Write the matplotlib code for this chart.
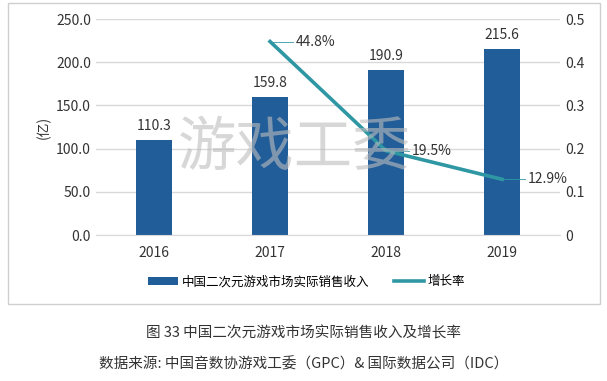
import matplotlib.pyplot as plt
from matplotlib.patches import Rectangle

plt.rcParams['font.family'] = ['Noto Sans CJK SC', 'DejaVu Sans']

years = ['2016', '2017', '2018', '2019']
revenue = [110.3, 159.8, 190.9, 215.6]
growth_years = ['2017', '2018', '2019']
growth = [0.448, 0.195, 0.129]
growth_labels = ['44.8%', '19.5%', '12.9%']

bar_color = '#215d99'
line_color = '#2e97a3'

fig = plt.figure(figsize=(6.07, 3.81), dpi=100)
ax = fig.add_axes([0.158, 0.383, 0.765, 0.567])
ax2 = ax.twinx()

x = list(range(len(years)))
ax.bar(x, revenue, width=0.31, color=bar_color, zorder=2, label='中国二次元游戏市场实际销售收入')
for xi, v in zip(x, revenue):
    ax.text(xi, v + 8, f'{v:.1f}', ha='center', va='bottom', fontsize=10, color='#333333')

gx = [years.index(y) for y in growth_years]
ax2.plot(gx, growth, color=line_color, lw=2.6, zorder=3, label='增长率')
for xi, g, lab in zip(gx, growth, growth_labels):
    ax2.plot([xi, xi + 0.2], [g, g], color=line_color, lw=0.6)
    ax2.text(xi + 0.22, g, lab, ha='left', va='center', fontsize=10, color='#333333')

ax.set_xlim(-0.5, 3.5)
ax.set_ylim(0, 250)
ax2.set_ylim(0, 0.5)
ax.set_yticks([0, 50, 100, 150, 200, 250])
ax.set_yticklabels([f'{v:.1f}' for v in [0, 50, 100, 150, 200, 250]])
ax2.set_yticks([0, 0.1, 0.2, 0.3, 0.4, 0.5])
ax2.set_yticklabels(['0', '0.1', '0.2', '0.3', '0.4', '0.5'])
ax.set_xticks(x)
ax.set_xticklabels(years)
ax.yaxis.grid(True, color='#d9d9d9', lw=1, zorder=0)
ax.set_axisbelow(True)
for a in (ax, ax2):
    for s in a.spines.values():
        s.set_visible(False)
    a.tick_params(length=0, labelsize=10, colors='#333333')
ax.spines['bottom'].set_visible(True)
ax.spines['bottom'].set_color('#d9d9d9')
ax.tick_params(axis='x', pad=8)
ax.set_ylabel('(亿)', fontsize=10, color='#333333', labelpad=4)

# watermark
fig.text(0.485, 0.61, '游戏工委', fontsize=42, color='#bdbdbd', alpha=0.6,
         ha='center', va='center', zorder=5)

h1, l1 = ax.get_legend_handles_labels()
h2, l2 = ax2.get_legend_handles_labels()
fig.legend(h1 + h2, l1 + l2, loc='center', bbox_to_anchor=(0.505, 0.26), ncol=2,
           frameon=False, fontsize=9, handlelength=2.4, handletextpad=0.3,
           columnspacing=2.0)

fig.patches.append(Rectangle((0.014, 0.203), 0.974, 0.79, transform=fig.transFigure,
                             fill=False, edgecolor='#cfcfcf', lw=1))

fig.text(0.5, 0.125, '图 33 中国二次元游戏市场实际销售收入及增长率', ha='center', va='center',
         fontsize=10.5, color='#333333')
fig.text(0.5, 0.045, '数据来源: 中国音数协游戏工委（GPC）& 国际数据公司（IDC）', ha='center',
         va='center', fontsize=10.5, color='#333333')

fig.savefig('out.png', dpi=100)
